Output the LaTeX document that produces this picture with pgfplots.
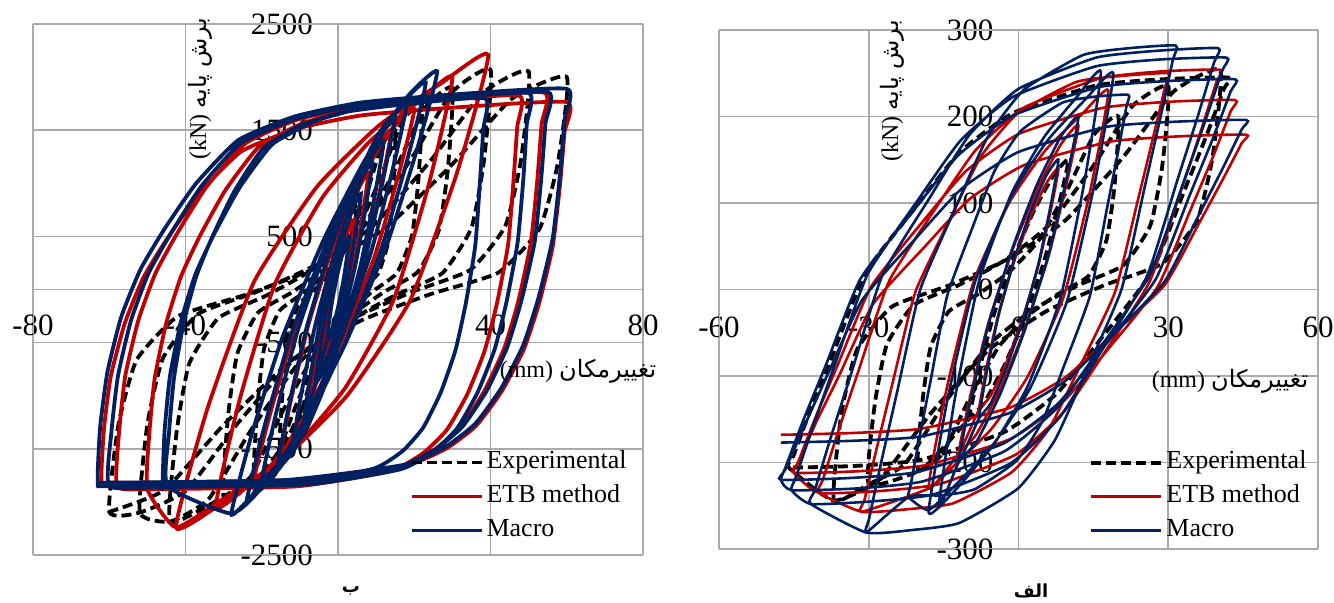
\documentclass[border=0pt]{standalone}
\usepackage{fontspec}
\setmainfont{Liberation Serif}
\newfontfamily\arabicfont[Script=Arabic]{DejaVu Sans}
\TeXXeTstate=1
\usepackage{pgfplots}
\pgfplotsset{compat=1.18}
\definecolor{exred}{RGB}{192,0,0}
\definecolor{exblue}{RGB}{0,32,96}
\definecolor{gridgray}{RGB}{170,170,170}
\pgfplotsset{
  hyst/.style={
    scale only axis, anchor=south west,
    axis x line=middle, axis y line=middle,
    axis line style={-, draw=gridgray, line width=0.8pt},
    grid=major, major grid style={gridgray, line width=0.8pt},
    major tick length=0pt,
    hide obscured x ticks=false, hide obscured y ticks=false,
    scaled x ticks=false, scaled y ticks=false,
    /pgf/number format/1000 sep={},
    /pgf/number format/assume math mode=true,
    tick label style={font=\fontsize{15.5}{18}\selectfont},
    xticklabel style={yshift=-9pt},
    yticklabel style={xshift=-9pt},
    legend cell align=left,
    legend image code/.code={\draw[##1] (0pt,0pt) -- (35pt,0pt);},
    legend style={draw=none, fill=none, anchor=north west, inner sep=0pt,
      row sep=2pt, font=\fontsize{13}{15}\selectfont,
      nodes={inner sep=1.5pt, text height=9pt, text depth=3pt}},
    execute at end axis={\draw[gridgray, line width=0.8pt] (rel axis cs:0,0) rectangle (rel axis cs:1,1);},
  }
}
\begin{document}
\begin{tikzpicture}
\path[use as bounding box] (0,0) rectangle (667pt,301.5pt);
% ---------------- left panel ----------------
\begin{axis}[hyst,
  at={(16.5pt,24pt)}, width=305pt, height=265.5pt,
  xmin=-80, xmax=80, ymin=-2500, ymax=2500,
  xtick={-80,-40,0,40,80}, ytick={-2500,-1500,-500,500,1500,2500},
  legend style={at={(rel axis cs:0.617,0.203)}},
]
\addplot[black, line width=1.9pt, dash pattern=on 5pt off 2.5pt, smooth, tension=0.3] coordinates {
(-5,-800) (-4,-512) (-2.5,-160) (-0.5,192) (1.5,480) (3.5,704) (5,800)
(4,512) (2.5,160) (0.5,-192) (-1.5,-480) (-3.5,-704) (-5,-800)
(-15,-1500) (-14.4,-900) (-13.2,-450) (-10.5,-150) (-6,0) (-1.5,180) (3,450) (7.5,900) (11.4,1350) (15,1500)
(14.4,900) (13.2,450) (10.5,150) (6,0) (1.5,-180) (-3,-450) (-7.5,-900) (-11.4,-1350) (-15,-1500)
(-22,-1800) (-21.1,-1090) (-19.4,-558) (-15.4,-203) (-8.8,-25) (-2.2,188) (4.4,508) (11,1040) (16.7,1573) (22,1750)
(21.1,1040) (19.4,508) (15.4,153) (8.8,-25) (2.2,-238) (-4.4,-558) (-11,-1090) (-16.7,-1623) (-22,-1800)
(-30,-1950) (-28.8,-1180) (-26.4,-603) (-21,-218) (-12,-25) (-3,206) (6,553) (15,1130) (22.8,1708) (30,1900)
(28.8,1130) (26.4,553) (21,168) (12,-25) (3,-256) (-6,-603) (-15,-1180) (-22.8,-1758) (-30,-1950)
(-44,-2185) (-42.3,-1334) (-39.0,-696) (-31.4,-270) (-18.8,-57) (-6.2,198) (6.4,581) (19,1219) (29.9,1857) (40,2070)
(38.3,1219) (35.0,581) (27.4,155) (14.8,-58) (2.2,-313) (-10.4,-696) (-23,-1334) (-33.9,-1972) (-44,-2185)
(-52,-2100) (-50,-1269) (-45.9,-646) (-36.7,-231) (-21.4,-23) (-6.1,226) (9.2,600) (24.5,1223) (37.8,1846) (50,2054)
(48,1223) (43.9,600) (34.7,185) (19.4,-23) (4.1,-272) (-11.2,-646) (-26.5,-1269) (-39.8,-1892) (-52,-2100)
(-60,-2094) (-57.6,-1275) (-52.8,-661) (-42,-252) (-24,-47) (-6,199) (12,567) (30,1181) (45.6,1796) (60,2000)
(57.6,1181) (52.8,567) (42,158) (24,-47) (6,-293) (-12,-661) (-30,-1275) (-45.6,-1890) (-60,-2094)
};
\addlegendentry{Experimental}
\addplot[exred, line width=1.9pt, smooth, tension=0.3] coordinates {
(-4,-650) (-3.2,-416) (-2,-130) (-0.4,156) (1.2,390) (2.8,572) (4,650)
(3.2,416) (2,130) (0.4,-156) (-1.2,-390) (-2.8,-572) (-4,-650)
(-8,-1150) (-6.4,-745) (-4,-250) (-0.8,245) (2.4,650) (5.6,965) (8,1100)
(6.4,695) (4,200) (0.8,-295) (-2.4,-700) (-5.6,-1015) (-8,-1150)
(-15,-1550) (-12.1,-1001) (-7.75,-330) (-1.95,341) (3.85,890) (9.65,1317) (14,1500)
(11.1,951) (6.75,280) (0.95,-391) (-4.85,-940) (-10.65,-1367) (-15,-1550)
(-22,-1800) (-17.8,-1170) (-11.5,-400) (-3.1,370) (5.3,1000) (13.7,1490) (20,1700)
(15.8,1070) (9.5,300) (1.1,-470) (-7.3,-1100) (-15.7,-1590) (-22,-1800)
(-32,-2050) (-25.8,-1038) (-16.5,56) (-4.1,866) (8.3,1393) (20.7,1757) (30,2000)
(23.8,988) (14.5,-106) (2.1,-916) (-10.3,-1443) (-22.7,-1807) (-32,-2050)
(-42.5,-2240) (-34.3,-1128) (-22.0,74) (-5.6,964) (10.7,1543) (27.1,1943) (39.4,2210)
(31.2,1098) (18.9,-104) (2.5,-994) (-13.8,-1573) (-30.2,-1973) (-42.5,-2240)
(-50,-1880) (-49.5,-1361) (-48.1,-842) (-45.1,-323) (-41.2,121) (-36.4,492) (-29.5,937) (-20.7,1344) (-9.1,1567) (4.6,1696) (23.1,1770) (47.5,1826)
(47.0,1530) (46.0,1011) (44.6,418) (41.65,-138) (38.4,-583) (33.85,-991) (28.5,-1324) (22.15,-1546) (13.4,-1713) (-11,-1854) (-50,-1880)
(-58,-1850) (-57.4,-1331) (-55.8,-813) (-52.4,-294) (-47.9,151) (-42.3,521) (-34.5,966) (-24.4,1373) (-11.0,1596) (4.7,1725) (26,1799) (54,1855)
(53.4,1559) (52.3,1040) (50.6,447) (47.3,-109) (43.6,-553) (38.3,-961) (32.2,-1294) (24.9,-1517) (14.8,-1683) (-13.2,-1824) (-58,-1850)
(-62,-1822) (-61.4,-1320) (-59.6,-818) (-55.9,-315) (-51.0,115) (-44.9,474) (-36.4,904) (-25.4,1299) (-10.8,1514) (6.3,1640) (29.5,1711) (60,1765)
(59.4,1478) (58.2,976) (56.3,402) (52.7,-136) (48.7,-567) (42.9,-961) (36.2,-1284) (28.3,-1499) (17.3,-1661) (-13.2,-1797) (-62,-1822)
};
\addlegendentry{ETB method}
\addplot[exblue, line width=1.9pt, smooth, tension=0.3] coordinates {
(-3,-500) (-2.4,-320) (-1.5,-100) (-0.3,120) (0.9,300) (2.1,440) (3,500)
(2.4,320) (1.5,100) (0.3,-120) (-0.9,-300) (-2.1,-440) (-3,-500)
(-6,-900) (-4.8,-576) (-3,-180) (-0.6,216) (1.8,540) (4.2,792) (6,900)
(4.8,576) (3,180) (0.6,-216) (-1.8,-540) (-4.2,-792) (-6,-900)
(-9,-1250) (-7.2,-809) (-4.5,-270) (-0.9,269) (2.7,710) (6.3,1053) (9,1200)
(7.2,759) (4.5,220) (0.9,-319) (-2.7,-760) (-6.3,-1103) (-9,-1250)
(-12,-1500) (-9.6,-978) (-6,-340) (-1.2,298) (3.6,820) (8.4,1226) (12,1400)
(9.6,878) (6,240) (1.2,-398) (-3.6,-920) (-8.4,-1326) (-12,-1500)
(-16,-1700) (-12.9,-1097) (-8.25,-360) (-2.05,377) (4.15,980) (10.35,1449) (15,1650)
(11.9,1047) (7.25,310) (1.05,-427) (-5.15,-1030) (-11.35,-1499) (-16,-1700)
(-20,-1800) (-16.2,-1161) (-10.5,-380) (-2.9,401) (4.7,1040) (12.3,1537) (18,1750)
(14.2,1111) (8.5,330) (0.9,-451) (-6.7,-1090) (-14.3,-1587) (-20,-1800)
(-24,-2000) (-19.3,-1289) (-12.25,-420) (-2.85,449) (6.55,1160) (15.95,1713) (23,1950)
(18.3,1239) (11.25,370) (1.85,-499) (-7.55,-1210) (-16.95,-1763) (-24,-2000)
(-28,-2110) (-22.6,-1360) (-14.5,-444) (-3.7,472) (7.1,1221) (17.9,1804) (26,2054)
(20.6,1304) (12.5,388) (1.7,-528) (-9.1,-1277) (-19.9,-1860) (-28,-2110)
(-44.7,-1850) (-44.3,-1339) (-43.0,-828) (-40.5,-317) (-37.2,121) (-33.1,486) (-27.2,924) (-19.7,1326) (-9.8,1545) (1.9,1672) (17.7,1745) (38.5,1800)
(38.1,1508) (37.2,997) (36.0,413) (33.5,-135) (30.8,-573) (26.9,-974) (22.3,-1303) (16.9,-1522) (9.4,-1686) (-11.4,-1824) (-44.7,-1850)
(-46,-1860) (-45.5,-1341) (-44.1,-821) (-41.2,-302) (-37.4,143) (-32.6,514) (-25.8,960) (-17.2,1368) (-5.7,1590) (7.8,1720) (26,1794) (50,1850)
(49.5,1553) (48.6,1034) (47.1,440) (44.2,-116) (41.1,-562) (36.6,-970) (31.3,-1304) (25.0,-1526) (16.4,-1693) (-7.6,-1834) (-46,-1860)
(-60,-1850) (-59.4,-1331) (-57.7,-811) (-54.3,-292) (-49.7,153) (-43.9,524) (-35.9,970) (-25.5,1378) (-11.7,1600) (4.4,1730) (26.3,1804) (55,1860)
(54.4,1563) (53.3,1044) (51.6,450) (48.1,-106) (44.3,-552) (38.9,-960) (32.6,-1294) (25.1,-1516) (14.75,-1683) (-14,-1824) (-60,-1850)
(-63,-1820) (-62.4,-1301) (-60.5,-781) (-56.9,-262) (-51.9,183) (-45.8,554) (-37.2,1000) (-26.1,1408) (-11.3,1630) (5.9,1760) (29.3,1834) (60,1890)
(59.4,1593) (58.2,1074) (56.3,480) (52.6,-76) (48.6,-522) (42.8,-930) (36.0,-1264) (28.0,-1486) (17.0,-1653) (-13.8,-1794) (-63,-1820)
};
\addlegendentry{Macro}
\end{axis}
% ---------------- right panel ----------------
\begin{axis}[hyst,
  at={(359.5pt,27pt)}, width=299.5pt, height=259.5pt,
  xmin=-60, xmax=60, ymin=-300, ymax=300,
  xtick={-60,-30,0,30,60}, ytick={-300,-200,-100,0,100,200,300},
  xticklabel style={yshift=-1pt},
  legend style={at={(rel axis cs:0.618,0.196)}},
]
\addplot[black, line width=1.9pt, dash pattern=on 5pt off 2.5pt, smooth, tension=0.3] coordinates {
(-10,-150) (-8,-96) (-5,-30) (-1,36) (3,90) (7,132) (10,150)
(8,96) (5,30) (1,-36) (-3,-90) (-7,-132) (-10,-150)
(-20,-210) (-19.2,-128) (-17.6,-66.5) (-14,-25.5) (-8,-5) (-2,19.6) (4,56.5) (10,118) (15.2,179.5) (20,200)
(19.2,118) (17.6,56.5) (14,15.5) (8,-5) (2,-29.6) (-4,-66.5) (-10,-128) (-15.2,-189.5) (-20,-210)
(-30,-225) (-28.8,-133) (-26.4,-64) (-21,-18) (-12,5) (-3,33) (6,74) (15,143) (22.8,212) (30,235)
(28.8,143) (26.4,74) (21,28) (12,5) (3,-23) (-6,-64) (-15,-133) (-22.8,-202) (-30,-225)
(-37,-244) (-35.5,-144) (-32.4,-70) (-25.4,-20) (-13.8,5) (-2.2,35) (9.4,80) (21.1,154) (31.1,229) (40.4,254)
(38.9,154) (35.8,80) (28.8,30) (17.2,5) (5.6,-25) (-6.0,-70) (-17.7,-144) (-27.7,-219) (-37,-244)
(-46,-206) (-45.1,-192.5) (-41.6,-138) (-37.2,-75) (-30.6,19.5) (-20.5,96) (-11.7,159) (-1.1,204) (15.6,236) (28.8,243) (42,245)
(41.1,231.5) (37.6,177) (33.2,114) (26.6,19.5) (16.5,-57) (7.7,-120) (-2.9,-165) (-19.6,-197) (-32.8,-204) (-46,-206)
};
\addlegendentry{Experimental}
\addplot[exred, line width=1.3pt, smooth, tension=0.3] coordinates {
(-8,-140) (-6.4,-90) (-4,-28) (-0.8,34) (2.4,84) (5.6,123) (8,140)
(6.4,90) (4,28) (0.8,-34) (-2.4,-84) (-5.6,-123) (-8,-140)
(-12,-190) (-9.6,-122) (-6,-38) (-1.2,46) (3.6,114) (8.4,167) (12,190)
(9.6,122) (6,38) (1.2,-46) (-3.6,-114) (-8.4,-167) (-12,-190)
(-18,-230) (-14.4,-115) (-9,9) (-1.8,101) (5.4,161) (12.6,202) (18,230)
(14.4,115) (9,-9) (1.8,-101) (-5.4,-161) (-12.6,-202) (-18,-230)
(-31.4,-257) (-30.8,-242) (-28.3,-181) (-25.3,-110) (-20.7,-3.5) (-13.6,83) (-7.5,154) (-0.1,204) (11.6,240) (20.8,247) (30,250)
(29.4,235) (26.9,174) (23.9,103) (19.3,-3.5) (12.2,-90) (6.1,-161) (-1.3,-211) (-13.0,-247) (-22.2,-254) (-31.4,-257)
(-40,-235) (-39.2,-220) (-36.0,-162) (-32.0,-93) (-25.9,10) (-16.7,93) (-8.6,161) (1.0,210) (16.3,244) (28.3,252) (40.4,254)
(39.6,239) (36.4,181) (32.4,112) (26.3,9.5) (17.1,-74) (9.0,-142) (-0.6,-191) (-15.9,-225) (-27.9,-233) (-40,-235)
(-45,-212) (-44.1,-199) (-40.6,-147) (-36.2,-87) (-29.5,3.5) (-19.4,77) (-10.5,137) (0.1,180) (16.9,210) (30.1,217) (43.4,219)
(42.5,206) (39.0,154) (34.6,94) (27.9,3.5) (17.8,-70) (8.9,-130) (-1.7,-173) (-18.5,-203) (-31.7,-210) (-45,-212)
(-44.1,-200) (-40.5,-153) (-35.9,-99) (-29.1,-16.5) (-18.7,50) (-9.7,105) (1.2,144) (18.4,171) (32.0,177) (45.6,179)
(44.7,169) (40.9,127) (36.3,78) (29.3,5.5) (18.6,-53) (9.3,-102) (-1.9,-137) (-19.6,-161) (-33.6,-166) (-47.6,-168)
};
\addlegendentry{ETB method}
\addplot[exblue, line width=1.3pt, smooth, tension=0.3] coordinates {
(-8,-150) (-6.4,-96) (-4,-30) (-0.8,36) (2.4,90) (5.6,132) (8,150)
(6.4,96) (4,30) (0.8,-36) (-2.4,-90) (-5.6,-132) (-8,-150)
(-12,-200) (-9.6,-128) (-6,-40) (-1.2,48) (3.6,120) (8.4,176) (12,200)
(9.6,128) (6,40) (1.2,-48) (-3.6,-120) (-8.4,-176) (-12,-200)
(-16,-252) (-12.75,-126) (-7.9,10) (-1.4,111) (5.1,176) (11.6,222) (16.5,252)
(13.25,126) (8.4,-10) (1.9,-111) (-4.6,-176) (-11.1,-222) (-16,-252)
(-18,-255) (-14.3,-129) (-8.75,8) (-1.35,109) (6.05,174) (13.45,220) (19,250)
(15.3,124) (9.75,-13) (2.35,-114) (-5.05,-179) (-12.45,-225) (-18,-255)
(-22,-240) (-21.6,-226) (-19.8,-170) (-17.6,-105) (-14.3,-7.5) (-9.2,72) (-4.8,137) (0.4,183) (8.8,216) (15.4,223) (22,225)
(21.6,211) (19.8,155) (17.6,90) (14.3,-7.5) (9.2,-87) (4.8,-152) (-0.4,-198) (-8.8,-231) (-15.4,-238) (-22,-240)
(-30.5,-281) (-29.9,-264) (-27.4,-197) (-24.3,-118) (-19.65,0.5) (-12.5,96) (-6.3,175) (1.1,231) (12.9,271) (22.2,279) (31.5,282)
(30.9,265) (28.4,198) (25.3,119) (20.65,0.5) (13.5,-95) (7.3,-174) (-0.1,-230) (-11.9,-270) (-21.2,-278) (-30.5,-281)
(-41.6,-248) (-40.8,-232) (-37.5,-169) (-33.4,-95) (-27.3,16) (-17.9,105) (-9.8,179) (0.0,232) (15.5,268) (27.8,276) (40,279)
(39.2,263) (35.9,200) (31.8,126) (25.7,15) (16.3,-74) (8.2,-148) (-1.6,-201) (-17.1,-237) (-29.4,-245) (-41.6,-248)
(-45.5,-232) (-44.6,-217) (-41.1,-157) (-36.8,-87) (-30.2,18) (-20.2,103) (-11.5,173) (-1.0,223) (15.5,258) (28.6,266) (41.7,268)
(40.8,253) (37.3,193) (33.0,123) (26.4,18) (16.4,-67) (7.7,-137) (-2.8,-187) (-19.3,-222) (-32.4,-230) (-45.5,-232)
(-47.6,-220) (-46.7,-206) (-43.1,-151) (-38.5,-86) (-31.7,12) (-21.2,90) (-12.1,155) (-1.2,201) (16.1,234) (29.8,241) (43.4,243)
(42.5,229) (38.9,174) (34.3,109) (27.5,12) (17.0,-67) (7.9,-132) (-3.0,-178) (-20.3,-211) (-34.0,-218) (-47.6,-220)
(-46.7,-208) (-42.9,-158) (-38.3,-99) (-31.3,-12) (-20.6,59) (-11.3,117) (0.0,159) (17.6,188) (31.6,194) (45.6,196)
(44.7,185) (40.9,140) (36.3,88) (29.3,9.5) (18.6,-54) (9.3,-106) (-1.9,-143) (-19.6,-170) (-33.6,-175) (-47.6,-177)
};
\addlegendentry{Macro}
\end{axis}
% ---------------- titles ----------------
\node[rotate=90, font=\fontsize{12}{14}\selectfont, inner sep=0pt] at (100pt,257pt) {(kN) {\arabicfont\beginR برش پایه\endR}};
\node[rotate=90, font=\fontsize{12}{14}\selectfont, inner sep=0pt] at (446pt,256pt) {(kN) {\arabicfont\beginR برش پایه\endR}};
\node[font=\fontsize{12}{14}\selectfont, inner sep=0pt] at (289pt,116pt) {(mm) {\arabicfont\beginR تغییرمکان\endR}};
\node[font=\fontsize{12}{14}\selectfont, inner sep=0pt] at (615pt,111pt) {(mm) {\arabicfont\beginR تغییرمکان\endR}};
\node[font=\fontsize{9}{11}\selectfont, inner sep=0pt] at (175.5pt,6pt) {\arabicfont\bfseries\beginR ب\endR};
\node[font=\fontsize{9}{11}\selectfont, inner sep=0pt] at (515.5pt,6pt) {\arabicfont\bfseries\beginR الف\endR};
\end{tikzpicture}
\end{document}
